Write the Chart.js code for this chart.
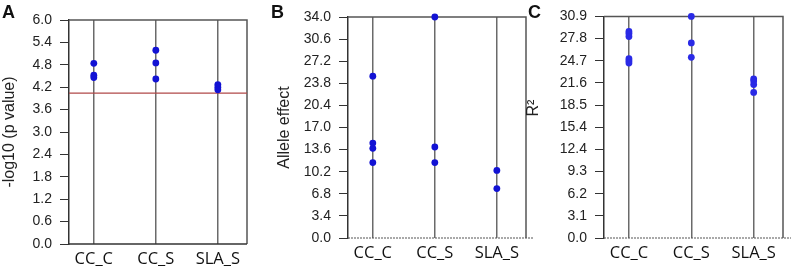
<!DOCTYPE html>
<html><head><meta charset="utf-8">
<script src="https://cdn.jsdelivr.net/npm/chart.js@4/dist/chart.umd.min.js"></script>
<style>
html,body{margin:0;padding:0;background:#fff;width:796px;height:273px;overflow:hidden;position:relative}
.p{position:absolute;top:0;height:273px}
.lbl{position:absolute;font:bold 18px "Liberation Sans",Arial,sans-serif;line-height:18px;color:#111}
.ytitle{position:absolute;font:16px "Liberation Sans",Arial,sans-serif;line-height:18px;color:#222;
  width:30px;height:18px;text-align:center;transform:rotate(-90deg);transform-origin:50% 50%}
</style></head><body>
<div class="p" style="left:0;width:257px"><canvas id="ca" width="257" height="273"></canvas></div>
<div class="p" style="left:260px;width:276px"><canvas id="cb" width="276" height="273"></canvas></div>
<div class="p" style="left:525px;width:271px"><canvas id="cc" width="271" height="273"></canvas></div>
<div class="lbl" style="left:2px;top:3px">A</div>
<div class="lbl" style="left:271px;top:3px">B</div>
<div class="lbl" style="left:528px;top:3px">C</div>
<div class="ytitle" style="left:518px;top:99px">R²</div>
<script>
// ---- data ----
const categories = ['CC_C', 'CC_S', 'SLA_S'];

// Panel A: -log10 (p value)
const pCC_C = [4.84, 4.52, 4.46];
const pCC_S = [5.19, 4.85, 4.42];
const pSLA_S = [4.27, 4.20, 4.13];
const pThreshold = 4.04;
const yTicksA = ['0.0','0.6','1.2','1.8','2.4','3.0','3.6','4.2','4.8','5.4','6.0'];
const yStepA = 0.6;

// Panel B: Allele effect
const aeCC_C = [24.9, 14.6, 13.8, 11.6];
const aeCC_S = [34.0, 14.0, 11.6];
const aeSLA_S = [10.4, 7.6];
const yTicksB = ['0.0','3.4','6.8','10.2','13.6','17.0','20.4','23.8','27.2','30.6','34.0'];
const yStepB = 3.4;

// Panel C: R2
const r2CC_C = [28.8, 28.5, 28.1, 25.0, 24.7, 24.4];
const r2CC_S = [30.9, 27.2, 25.2];
const r2SLA_S = [22.2, 21.9, 21.4, 20.3];
const yTicksC = ['0.0','3.1','6.2','9.3','12.4','15.4','18.5','21.6','24.7','27.8','30.9'];
const yStepC = 3.09;

// ---- helpers ----
function toPoints(groups) {
  const pts = [];
  groups.forEach((vals, i) => vals.forEach(v => pts.push({x: i, y: v})));
  return pts;
}
const X_MIN = -0.4, X_MAX = 2.47;

const boxPlugin = {
  id: 'box',
  beforeDatasetsDraw(chart, args, opts) {
    const {ctx, chartArea: a} = chart;
    ctx.save();
    ctx.strokeStyle = '#555';
    ctx.lineWidth = 1.5;
    ctx.beginPath();
    ctx.moveTo(a.left, a.top); ctx.lineTo(a.right, a.top); ctx.lineTo(a.right, a.bottom);
    ctx.stroke();
    ctx.beginPath();
    if (opts.dotted) { ctx.setLineDash([2, 1]); ctx.strokeStyle = '#555'; ctx.lineWidth = 1.2; }
    else { ctx.strokeStyle = '#333'; ctx.lineWidth = 1.5; }
    ctx.moveTo(a.left, a.bottom); ctx.lineTo(a.right + (opts.dotted ? 8 : 0), a.bottom);
    ctx.stroke();
    ctx.restore();
  }
};

function makePanel(id, groups, yTicks, yStep, title, cfg, extraDatasets, color) {
  const datasets = [{
    data: toPoints(groups),
    backgroundColor: color,
    borderWidth: 0,
    pointRadius: 3.4,
    clip: false,
    order: 0
  }].concat(extraDatasets || []);
  return new Chart(document.getElementById(id), {
    type: 'scatter',
    data: {datasets},
    plugins: [boxPlugin],
    options: {
      responsive: false,
      animation: false,
      events: [],
      layout: {padding: {top: cfg.top, right: cfg.right, left: 0, bottom: 0}},
      plugins: {legend: {display: false}, tooltip: {enabled: false}, box: {dotted: cfg.dotted}},
      scales: {
        x: {
          type: 'linear', min: X_MIN, max: X_MAX,
          afterBuildTicks: s => { s.ticks = categories.map((c, i) => ({value: i})); },
          afterFit: s => { s.height = cfg.xh; },
          ticks: {callback: (v, i) => categories[i], font: {family: 'Open Sans', size: 16.5}, color: '#111',
                  padding: 5, maxRotation: 0, autoSkip: false},
          grid: {color: '#6a6a6a', lineWidth: 1.5, drawTicks: false},
          border: {display: false}
        },
        y: {
          type: 'linear', min: 0, max: Math.round(yStep * (yTicks.length - 1) * 100) / 100,
          afterBuildTicks: s => { s.ticks = yTicks.map((t, i) => ({value: Math.round(i * yStep * 1000) / 1000})); },
          afterFit: s => { s.width = cfg.yw; },
          ticks: {callback: (v, i) => yTicks[i], font: {family: 'Liberation Sans', size: 14}, color: '#222', padding: 8},
          grid: {drawOnChartArea: false, color: '#333', tickLength: 9, lineWidth: 1},
          border: {display: true, color: '#333', width: 1.5},
          title: {display: !!title, text: title, font: {family: 'Liberation Sans', size: 16}, color: '#222',
                  padding: {top: cfg.tp, bottom: 0}}
        }
      }
    }
  });
}

makePanel('ca', [pCC_C, pCC_S, pSLA_S], yTicksA, yStepA, '-log10 (p value)',
  {top: 20, right: 10, xh: 29, yw: 69, tp: 0, dotted: false},
  [{type: 'line', data: [{x: X_MIN, y: pThreshold}, {x: X_MAX, y: pThreshold}], borderColor: '#b04848',
    borderWidth: 1.3, pointRadius: 0, order: 1}], '#1212d4');

makePanel('cb', [aeCC_C, aeCC_S, aeSLA_S], yTicksB, yStepB, 'Allele effect',
  {top: 17, right: 10, xh: 35, yw: 88, tp: 15, dotted: true}, [], '#1212d4');

makePanel('cc', [r2CC_C, r2CC_S, r2SLA_S], yTicksC, yStepC, '',
  {top: 14, right: 13, xh: 35, yw: 79, tp: 0, dotted: true}, [], '#2a2ae6');
</script>
</body></html>
